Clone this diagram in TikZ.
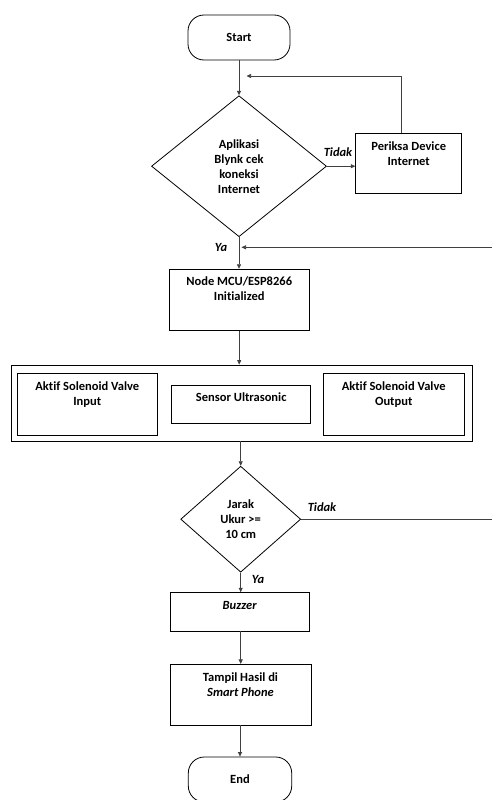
\documentclass[tikz,border=0pt]{standalone}
\usepackage{fontspec}
\setmainfont{Carlito}[Ligatures=NoCommon]
\usetikzlibrary{shapes.geometric,arrows.meta}
\newcommand\topbox[4]{\parbox[c][#2][t]{#1}{\centering\vspace{#3}\strut #4\par}}
\begin{document}
\begin{tikzpicture}[x=1pt,y=-1pt,
  every node/.style={font=\fontsize{12.5}{15}\selectfont\bfseries},
  box/.style={draw, line width=0.8pt, inner sep=0pt},
  term/.style={box, rounded corners=16pt, minimum width=102pt, minimum height=45pt},
  dec/.style={draw, diamond, inner sep=0pt, align=center, line width=0.8pt},
  arr/.style={-{Triangle[length=4.5pt,width=4pt]}, line width=0.7pt, draw=black!75},
  conn/.style={line width=0.7pt, draw=black!75},
  lbl/.style={inner sep=0pt, font=\fontsize{12.5}{15}\selectfont\bfseries\itshape}]
\useasboundingbox (0,0) rectangle (492,800);
\fill[white] (0,0) rectangle (492,800);

\node[term] (start) at (239,37.5) {Start};
\node[dec, minimum width=175pt, minimum height=141pt] (d1) at (239,166.2) {Aplikasi\\Blynk cek\\koneksi\\Internet};
\node[box] (chk) at (408.7,163.2) {\topbox{106pt}{60pt}{6.5pt}{Periksa Device\\Internet}};
\node[box] (mcu) at (239.2,299.7) {\topbox{140pt}{61pt}{6pt}{Node MCU/ESP8266\\Initialized}};
\node[box, minimum width=461.7pt, minimum height=76pt] (outer) at (241.8,403) {};
\node[box] (svin) at (87.3,404.3) {\topbox{140.7pt}{61.3pt}{6.5pt}{Aktif Solenoid Valve\\Input}};
\node[box] (sensor) at (241.2,404.2) {\topbox{139pt}{38.3pt}{6pt}{Sensor Ultrasonic}};
\node[box] (svout) at (393.7,404.3) {\topbox{140.7pt}{61.3pt}{6.5pt}{Aktif Solenoid Valve\\Output}};
\node[dec, minimum width=120pt, minimum height=106pt] (d2) at (240.7,519.2) {Jarak\\Ukur >=\\10 cm};
\node[box] (buzzer) at (239.7,611.8) {\topbox{139.3pt}{38.3pt}{6.5pt}{\itshape Buzzer}};
\node[box] (tampil) at (240.5,694.7) {\topbox{141pt}{60.7pt}{6.5pt}{Tampil Hasil di\\\itshape Smart Phone}};
\node[term, minimum width=103.4pt] (end) at (240,779.5) {End};

\coordinate (loopend) at (246.5,76);
\coordinate (rin) at (492,247.3);
\coordinate (yin) at (241.5,247.3);
\coordinate (rout) at (492,519.2);

\draw[arr] (start.south) -- (d1.north);
\draw[arr] ([xshift=-7pt]chk.north) |- (loopend);
\draw[arr] (d1.east) -- (d1.east -| chk.west);
\draw[arr] (d1.south) -- (d1.south |- mcu.north);
\draw[arr] (rin) -- (yin);
\draw[arr] (mcu.south) -- (mcu.south |- outer.north);
\draw[arr] (d2.north |- outer.south) -- (d2.north);
\draw[conn] (d2.east) -- (rout);
\draw[arr] (d2.south) -- (d2.south |- buzzer.north);
\draw[arr] (buzzer.south -| d2.south) -- (d2.south |- tampil.north);
\draw[arr] (tampil.south -| end.north) -- (end.north);

\node[lbl] (t1) at (338,151.7) {Tidak};
\node[lbl] (y1) at (221,247.5) {Ya};
\node[lbl] (t2) at (322,506.7) {Tidak};
\node[lbl] (y2) at (258,579.3) {Ya};
\end{tikzpicture}
\end{document}
